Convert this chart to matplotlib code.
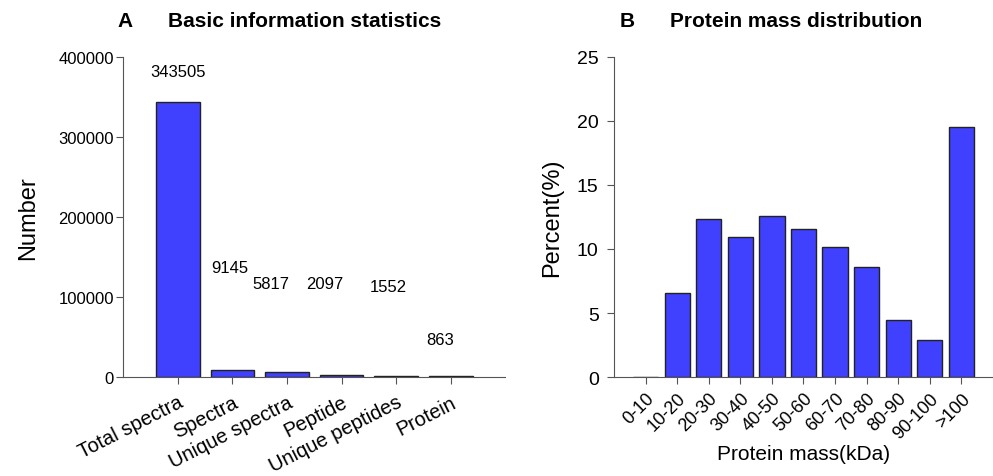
import numpy as np
import matplotlib
matplotlib.use("Agg")
import matplotlib.pyplot as plt

plt.rcParams['font.family'] = ['Liberation Sans', 'DejaVu Sans']

# panel A data
cats_a = ["Total spectra", "Spectra", "Unique spectra", "Peptide",
          "Unique peptides", "Protein"]
vals_a = [343505, 9145, 5817, 2097, 1552, 863]
# where the number labels sit (category position, y value)
lab_x = [0.0, 0.95, 1.7, 2.7, 3.85, 4.8]
lab_y = [382000, 137000, 117000, 117000, 113000, 47500]

# panel B data
cats_b = ["0-10", "10-20", "20-30", "30-40", "40-50", "50-60", "60-70",
          "70-80", "80-90", "90-100", ">100"]
vals_b = [0, 6.57, 12.36, 10.96, 12.56, 11.55, 10.15, 8.57, 4.49, 2.86, 19.55]

bar_col = "#4040ff"
edge_col = "#222222"
ax_col = "#555555"

fig = plt.figure(figsize=(9.93, 4.77), dpi=100)

# ---- panel A
ax1 = fig.add_axes([0.124, 0.2075, 0.385, 0.671])
ind = np.arange(len(cats_a))
ax1.bar(ind, vals_a, 0.8, color=bar_col, edgecolor=edge_col, linewidth=1)
for x, y, v in zip(lab_x, lab_y, vals_a):
    ax1.text(x, y, str(v), ha="center", va="center", fontsize=12)
ax1.set_xlim(-1, 6)
ax1.set_ylim(0, 400000)
ax1.set_yticks([0, 100000, 200000, 300000, 400000])
ax1.set_xticks(ind)
ax1.set_xticklabels(cats_a, rotation=27, ha="right", rotation_mode="anchor",
                    fontsize=14.5)
ax1.tick_params(axis='y', labelsize=12, length=5, pad=1.5, color=ax_col)
ax1.tick_params(axis='x', length=5, pad=6, color=ax_col)
ax1.set_ylabel("Number", fontsize=17, labelpad=14)
ax1.spines[['top', 'right']].set_visible(False)
ax1.spines[['left', 'bottom']].set_color(ax_col)
fig.text(0.126, 0.954, "A", fontsize=15, fontweight="bold", ha="center",
         va="center")
fig.text(0.307, 0.954, "Basic information statistics", fontsize=15,
         fontweight="bold", ha="center", va="center")

# ---- panel B
ax2 = fig.add_axes([0.6183, 0.2075, 0.3817, 0.671])
ind2 = np.arange(len(cats_b))
ax2.bar(ind2, vals_b, 0.8, color=bar_col, edgecolor=edge_col, linewidth=1)
ax2.set_xlim(-1, 11)
ax2.set_ylim(0, 25)
ax2.set_yticks([0, 5, 10, 15, 20, 25])
ax2.set_xticks(ind2)
ax2.set_xticklabels(cats_b, rotation=45, ha="right", rotation_mode="anchor",
                    fontsize=13)
ax2.tick_params(axis='y', labelsize=14, length=5, pad=6, color=ax_col)
ax2.tick_params(axis='x', length=5, pad=4, color=ax_col)
ax2.set_ylabel("Percent(%)", fontsize=17, labelpad=10)
ax2.set_xlabel("Protein mass(kDa)", fontsize=15, labelpad=2)
ax2.spines[['top', 'right']].set_visible(False)
ax2.spines[['left', 'bottom']].set_color(ax_col)
fig.text(0.632, 0.954, "B", fontsize=15, fontweight="bold", ha="center",
         va="center")
fig.text(0.802, 0.954, "Protein mass distribution", fontsize=15,
         fontweight="bold", ha="center", va="center")

fig.savefig("out.png", dpi=100)
